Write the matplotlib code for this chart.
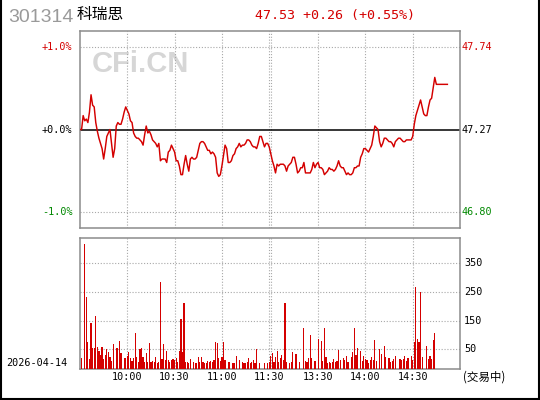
import matplotlib
matplotlib.use("Agg")
import matplotlib.pyplot as plt
from matplotlib.lines import Line2D
import matplotlib.transforms as mtransforms

# ---------------- data ----------------
CODE = "301314"
NAME = "科瑞思"
BASE = 47.27
HEADER = "47.53 +0.26 (+0.55%)"
DATE = "2026-04-14"
STATUS = "(交易中)"

PCT_LABELS = ["+1.0%", "+0.0%", "-1.0%"]
PRICE_LABELS = ["47.74", "47.27", "46.80"]
PRICE_LEVELS = [47.7427, 47.27, 46.7973]

VOL_TICKS = [50, 150, 250, 350]

TIME_LABELS = ["10:00", "10:30", "11:00", "11:30", "13:30", "14:00", "14:30"]
TIME_POS = [30, 60, 90, 120, 151, 181, 211]
GRID_X = [30, 60, 90, 120, 121, 151, 181, 211]

PRICE = [
    47.27, 47.27, 47.35, 47.32, 47.33, 47.31, 47.37, 47.47, 47.41, 47.40,
    47.31, 47.26, 47.22, 47.19, 47.16, 47.10, 47.16, 47.23, 47.25, 47.27,
    47.19, 47.11, 47.16, 47.29, 47.31, 47.30, 47.30, 47.33, 47.37, 47.40,
    47.38, 47.36, 47.32, 47.31, 47.25, 47.23, 47.22, 47.22, 47.21, 47.20,
    47.18, 47.24, 47.29, 47.25, 47.26, 47.24, 47.21, 47.20, 47.19, 47.17,
    47.19, 47.09, 47.10, 47.10, 47.10, 47.08, 47.14, 47.15, 47.18, 47.16,
    47.14, 47.09, 47.09, 47.06, 47.01, 47.01, 47.07, 47.12, 47.07, 47.03,
    47.10, 47.11, 47.10, 47.10, 47.11, 47.15, 47.19, 47.20, 47.20, 47.19,
    47.17, 47.15, 47.15, 47.13, 47.14, 47.13, 47.11, 47.02, 47.00, 47.01,
    47.06, 47.12, 47.18, 47.16, 47.08, 47.08, 47.09, 47.12, 47.13, 47.16,
    47.17, 47.19, 47.17, 47.18, 47.18, 47.19, 47.21, 47.21, 47.20, 47.18,
    47.17, 47.17, 47.16, 47.19, 47.23, 47.23, 47.20, 47.17, 47.19, 47.19,
    47.17, 47.13, 47.09, 47.06, 47.02, 47.07, 47.06, 47.07, 47.07, 47.07,
    47.06, 47.03, 47.06, 47.07, 47.08, 47.11, 47.11, 47.07, 47.02, 47.03,
    47.05, 47.05, 47.08, 47.02, 47.02, 47.02, 47.02, 47.04, 47.08, 47.05,
    47.07, 47.08, 47.05, 47.05, 47.04, 47.01, 47.02, 47.03, 47.05, 47.04,
    47.04, 47.03, 47.04, 47.06, 47.09, 47.06, 47.05, 47.05, 47.03, 47.01,
    47.02, 47.01, 47.01, 47.02, 47.05, 47.05, 47.06, 47.06, 47.11, 47.13,
    47.16, 47.16, 47.15, 47.14, 47.16, 47.18, 47.23, 47.29, 47.28, 47.27,
    47.20, 47.17, 47.19, 47.22, 47.22, 47.21, 47.20, 47.20, 47.19, 47.17,
    47.20, 47.21, 47.22, 47.22, 47.21, 47.20, 47.20, 47.21, 47.21, 47.21,
    47.21, 47.23, 47.30, 47.35, 47.38, 47.41, 47.44, 47.40, 47.36, 47.35,
    47.35, 47.40, 47.44, 47.45, 47.51, 47.57, 47.53, 47.53, 47.53, 47.53,
    47.53, 47.53, 47.53, 47.53,
]
MINUTE = list(range(len(PRICE)))

VOL_IDX = [
    1, 3, 4, 5, 6, 7, 8, 9, 10, 11, 12, 13, 14, 15, 16, 17, 18, 19, 20, 21,
    23, 24, 25, 26, 28, 29, 30, 31, 32, 33, 34, 35, 36, 37, 38, 39, 40, 41, 42, 43,
    44, 45, 46, 47, 48, 49, 50, 51, 52, 53, 54, 55, 56, 57, 58, 59, 60, 61, 62, 63,
    64, 65, 66, 67, 68, 69, 70, 72, 73, 74, 75, 76, 77, 78, 79, 80, 81,
    82, 83, 84, 85, 86, 87, 88, 89, 90, 91, 92, 94, 95, 97, 98, 99, 101, 103, 104, 105,
    106, 107, 108, 109, 110, 111, 112, 114, 117, 119, 120, 121, 122, 123, 124, 125, 126, 127, 128, 129,
    130, 131, 133, 134, 135, 137, 139, 142, 143, 144, 145, 146, 147, 149, 151, 153, 154, 155, 156, 157,
    158, 159, 160,
    161, 162, 163, 164, 165, 167, 168, 169, 170, 172, 173, 174, 175, 176, 178, 179, 180, 181, 182, 183,
    184, 185, 186, 187, 188, 190, 191, 193, 194, 196, 197, 198, 199, 200, 203, 204, 205, 206, 207, 208,
    210, 211, 212, 213, 214, 215, 216, 217, 220, 221, 222, 223, 224, 225,
]
VOL_VAL = [
    20, 417, 232, 76, 16, 142, 55, 55, 166, 58, 44, 30, 58, 16, 30, 51, 41, 23, 9, 69,
    55, 55, 79, 37, 20, 20, 27, 41, 20, 9, 20, 107, 23, 6, 51, 55, 23, 6, 37, 6,
    72, 6, 9, 6, 23, 2, 6, 285, 16, 69, 13, 44, 13, 6, 13, 16, 13, 20, 6, 44,
    156, 41, 212, 6, 6, 2, 16, 6, 2, 2, 23, 6, 23, 6, 2, 2, 9,
    6, 9, 6, 13, 76, 72, 20, 9, 23, 76, 13, 6, 6, 2, 2, 27, 13, 6, 2, 2,
    6, 20, 2, 6, 13, 2, 51, 2, 2, 2, 6, 27, 37, 6, 23, 44, 6, 20, 30, 13,
    212, 6, 2, 6, 41, 34, 6, 124, 9, 6, 20, 100, 20, 9, 86, 79, 9, 124, 23, 2,
    6, 2, 6,
    16, 6, 9, 48, 13, 20, 13, 27, 6, 23, 41, 124, 30, 55, 44, 9, 27, 16, 13, 2,
    13, 23, 13, 83, 9, 51, 34, 62, 23, 20, 6, 9, 16, 27, 16, 13, 16, 27, 9, 20,
    27, 13, 76, 267, 86, 76, 250, 23, 62, 16, 27, 16, 83, 107,
]

# ---------------- style ----------------
RED = "#d40000"
GREEN = "#008800"
GRID = "#a8a8a8"
FRAME = "#8c8c8c"
MONO = "DejaVu Sans Mono"
W, H = 540, 400

fig = plt.figure(figsize=(W / 100, H / 100), dpi=100)
fig.patch.set_facecolor("white")


def ftext(x, y, s, **kw):
    return fig.text(x / W, 1 - y / H, s, **kw)


def px_axes(x0, y0, x1, y1):
    return fig.add_axes([x0 / W, 1 - y1 / H, (x1 - x0) / W, (y1 - y0) / H])


ax_p = px_axes(80, 31, 460, 228)
ax_v = px_axes(80, 238, 460, 369)

for ax in (ax_p, ax_v):
    ax.set_xlim(0, 241)
    ax.set_xticks([])
    ax.set_yticks([])
    for sp in ax.spines.values():
        sp.set_color(FRAME)
        sp.set_linewidth(1.1)
    for gx in GRID_X:
        ax.axvline(gx, color=GRID, lw=0.8, ls=(0, (1, 1.6)), zorder=1)

# price panel
lo = BASE * 0.988
hi = BASE * 1.012
ax_p.set_ylim(lo, hi)
ax_p.axhline(PRICE_LEVELS[0], color=GRID, lw=0.8, ls=(0, (1, 1.6)), zorder=1)
ax_p.axhline(PRICE_LEVELS[2], color=GRID, lw=0.8, ls=(0, (1, 1.6)), zorder=1)
ax_p.axhline(BASE, color="black", lw=1.1, zorder=2)
ax_p.plot(MINUTE, PRICE, color=RED, lw=1.05, zorder=3)

ax_p.text(0.03, 0.83, "CFi.CN", transform=ax_p.transAxes, fontsize=21,
          fontweight="bold", family="Liberation Sans", color="#d6d6d6",
          va="center", ha="left", zorder=0)

colors = [RED, "black", GREEN]
tr_p_left = mtransforms.blended_transform_factory(fig.transFigure, ax_p.transData)
for lab, plab, lev, c in zip(PCT_LABELS, PRICE_LABELS, PRICE_LEVELS, colors):
    ax_p.text(72.5 / W, lev, lab, transform=tr_p_left, ha="right", va="center",
              fontsize=7.3, family=MONO, color=c, clip_on=False)
    ax_p.text(461.5 / W, lev, plab, transform=tr_p_left, ha="left", va="center",
              fontsize=7.3, family=MONO, color=c, clip_on=False)

# volume panel
vlo, vhi = -19, 438
ax_v.set_ylim(vlo, vhi)
for t in VOL_TICKS:
    ax_v.axhline(t, color=GRID, lw=0.8, ls=(0, (1, 1.6)), zorder=1)
ax_v.bar(VOL_IDX, [v - vlo for v in VOL_VAL], bottom=vlo, width=0.75,
         color=RED, linewidth=0, antialiased=False, zorder=3)
tr_v = mtransforms.blended_transform_factory(fig.transFigure, ax_v.transData)
for t in VOL_TICKS:
    ax_v.text(464 / W, t, str(t), transform=tr_v, ha="left", va="center",
              fontsize=7.3, family=MONO, color="black", clip_on=False)

tr_t = mtransforms.blended_transform_factory(ax_v.transData, fig.transFigure)
for lab, pos in zip(TIME_LABELS, TIME_POS):
    ax_v.text(pos, 1 - 377 / H, lab, transform=tr_t, ha="center", va="center",
              fontsize=7.3, family=MONO, color="black", clip_on=False)

# header
ftext(8, 18, CODE, fontsize=14, family="Liberation Sans", color="#9a9a9a",
      ha="left", va="center")
ftext(77, 14, NAME, fontsize=11.3, family=["Noto Sans CJK SC", "DejaVu Sans"],
      color="black", ha="left", va="center")
ftext(255, 15.5, HEADER, fontsize=9.6, family=MONO, color=RED,
      ha="left", va="center")
ftext(6.5, 363.5, DATE, fontsize=7.3, family=MONO, color="black",
      ha="left", va="center")
ftext(463, 377, STATUS, fontsize=8.3, family=["Noto Sans CJK SC", "DejaVu Sans"],
      color="black", ha="left", va="center")

# outer border (left, right, bottom)
for xs, ys in [([1 / W, 1 / W], [0, 1]),
               ([539 / W, 539 / W], [0, 1]),
               ([0, 1], [1 - 399 / H, 1 - 399 / H])]:
    fig.add_artist(Line2D(xs, ys, transform=fig.transFigure, color="black", lw=1.5))

fig.savefig("out.png", dpi=100)
